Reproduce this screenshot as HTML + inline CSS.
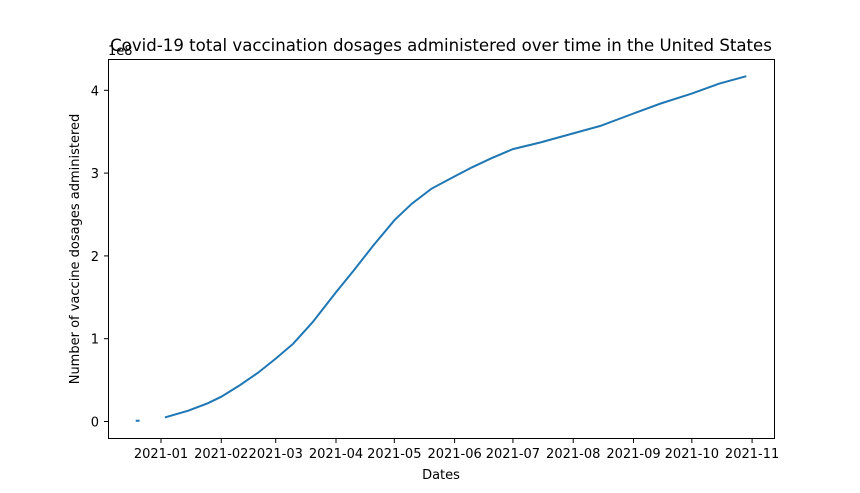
<!DOCTYPE html>
<html><head><meta charset="utf-8"><style>
body{margin:0;background:#fff;}
svg{display:block;font-family:"DejaVu Sans","Liberation Sans",sans-serif;}
</style></head><body>
<svg id="chart" width="860" height="493">
<text x="441" y="51" font-size="16.6" text-anchor="middle">Covid-19 total vaccination dosages administered over time in the United States</text>
<text x="108" y="55" font-size="13">1e8</text>
<text x="441" y="479" font-size="13" text-anchor="middle">Dates</text>
<text transform="translate(79,249) rotate(-90)" font-size="13" text-anchor="middle">Number of vaccine dosages administered</text>
<g id="xticks"></g><g id="yticks"></g>
<path id="line" fill="none" stroke="#1f77b4" stroke-width="2"/>
<rect x="108.5" y="59.5" width="666" height="379" fill="none" stroke="#000" stroke-width="1"/>
</svg>
<script>
const dates=["2020-12-19","2020-12-21",null,"2021-01-03","2021-01-15","2021-01-25","2021-02-01","2021-02-10","2021-02-20","2021-03-01","2021-03-10","2021-03-20","2021-04-01","2021-04-10","2021-04-20","2021-05-01","2021-05-10","2021-05-20","2021-06-01","2021-06-10","2021-06-20","2021-07-01","2021-07-15","2021-08-01","2021-08-15","2021-09-01","2021-09-15","2021-10-01","2021-10-15","2021-10-29"];
const values=[0.01,0.01,null,0.05,0.13,0.22,0.30,0.43,0.59,0.76,0.94,1.20,1.56,1.82,2.12,2.43,2.63,2.81,2.96,3.07,3.18,3.29,3.37,3.48,3.57,3.72,3.84,3.96,4.08,4.17];
const xTickLabels=["2021-01","2021-02","2021-03","2021-04","2021-05","2021-06","2021-07","2021-08","2021-09","2021-10","2021-11"];
const yTickValues=[0,1,2,3,4];
const t0=Date.UTC(2021,0,1);
function dayOf(s){const p=s.split("-");return (Date.UTC(+p[0],+p[1]-1,+p[2])-t0)/864e5;}
function xs(s){return 161+dayOf(s)*1.9444;}
function ys(v){return 421.5-v*82.8;}
const NS="http://www.w3.org/2000/svg";
const xg=document.getElementById("xticks"),yg=document.getElementById("yticks");
xTickLabels.forEach(l=>{const x=xs(l+"-01");
 const ln=document.createElementNS(NS,"line");ln.setAttribute("x1",x);ln.setAttribute("x2",x);ln.setAttribute("y1",439);ln.setAttribute("y2",443);ln.setAttribute("stroke","#000");
 
 
 xg.appendChild(ln);
 const t=document.createElementNS(NS,"text");t.setAttribute("x",x);t.setAttribute("y",458);t.setAttribute("font-size","13");t.setAttribute("text-anchor","middle");t.textContent=l;
 
 
 xg.appendChild(t);});
yTickValues.forEach(v=>{const y=ys(v);
 const ln=document.createElementNS(NS,"line");ln.setAttribute("x1",104);ln.setAttribute("x2",108);ln.setAttribute("y1",y);ln.setAttribute("y2",y);ln.setAttribute("stroke","#000");
 
 
 yg.appendChild(ln);
 const t=document.createElementNS(NS,"text");t.setAttribute("x",99);t.setAttribute("y",y+5);t.setAttribute("font-size","13");t.setAttribute("text-anchor","end");t.textContent=v;
 
 
 yg.appendChild(t);});
let d="",pen=false;
dates.forEach((s,i)=>{if(s===null||values[i]===null){pen=false;return;}
 d+=(pen?"L":"M")+xs(s).toFixed(1)+","+ys(values[i]).toFixed(1);pen=true;});
document.getElementById("line").setAttribute("d",d);
</script>
</body></html>
